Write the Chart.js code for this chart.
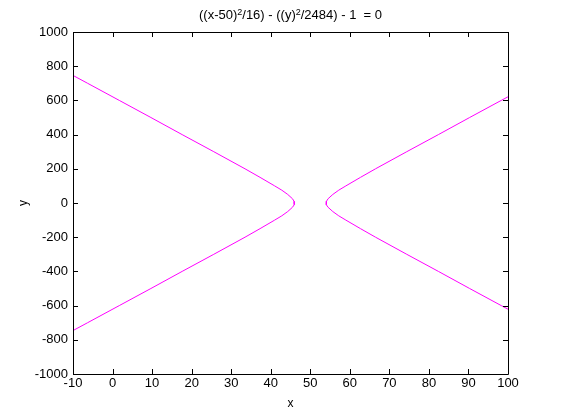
<!DOCTYPE html>
<html>
<head>
<meta charset="utf-8">
<script src="https://cdn.jsdelivr.net/npm/chart.js@4/dist/chart.umd.min.js"></script>
<style>
  html, body { margin: 0; padding: 0; background: #fff; }
  #wrap { width: 561px; height: 420px; }
</style>
</head>
<body>
<div id="wrap"><canvas id="c" width="561" height="420"></canvas></div>
<script>
// left branch, read top to bottom
const leftX = [-10, -6.3, 1.7, 9.7, 17.6, 25.6, 33.5, 37.3, 41.0, 42.8, 44.3, 45.5, 45.9, 46, 45.9, 45.5, 44.3, 42.8, 41.0, 37.3, 33.5, 25.6, 17.6, 9.7, 1.7, -6.3, -10];
const leftY = [746, 700, 600, 500, 400, 300, 200, 150, 100, 75, 50, 25, 10, 0, -10, -25, -50, -75, -100, -150, -200, -300, -400, -500, -600, -700, -746];
// right branch, read top to bottom
const rightX = [100, 98.3, 90.3, 82.4, 74.4, 66.5, 62.7, 59.0, 57.2, 55.7, 54.5, 54.1, 54, 54.1, 54.5, 55.7, 57.2, 59.0, 62.7, 66.5, 74.4, 82.4, 90.3, 98.3, 100];
const rightY = [621, 600, 500, 400, 300, 200, 150, 100, 75, 50, 25, 10, 0, -10, -25, -50, -75, -100, -150, -200, -300, -400, -500, -600, -621];

const xTicks = [-10, 0, 10, 20, 30, 40, 50, 60, 70, 80, 90, 100];
const yTicks = [-1000, -800, -600, -400, -200, 0, 200, 400, 600, 800, 1000];

const FONT = 'Liberation Sans, Arial, sans-serif';

const pts = (xs, ys) => xs.map((x, i) => ({ x: x, y: ys[i] }));

const frame = {
    id: 'frame',
    afterDraw(chart) {
        const ctx = chart.ctx;
        const a = chart.chartArea;
        const sx = chart.scales.x, sy = chart.scales.y;
        ctx.save();
        ctx.strokeStyle = '#000';
        ctx.lineWidth = 1;
        ctx.beginPath();
        ctx.rect(Math.round(a.left) + 0.5, Math.round(a.top) + 0.5, Math.round(a.right - a.left), Math.round(a.bottom - a.top));
        // inward ticks on all four sides
        xTicks.forEach(v => {
            const p = Math.round(sx.getPixelForValue(v)) + 0.5;
            ctx.moveTo(p, a.bottom); ctx.lineTo(p, a.bottom - 5);
            ctx.moveTo(p, a.top); ctx.lineTo(p, a.top + 5);
        });
        yTicks.forEach(v => {
            const p = Math.round(sy.getPixelForValue(v)) + 0.5;
            ctx.moveTo(a.left, p); ctx.lineTo(a.left + 5, p);
            ctx.moveTo(a.right, p); ctx.lineTo(a.right - 5, p);
        });
        ctx.stroke();

        // title with superscripts
        const parts = [['((x-50)', 0], ['2', 1], ['/16) - ((y)', 0], ['2', 1], ['/2484) - 1  = 0', 0]];
        const big = '13px ' + FONT, small = '9px ' + FONT;
        let w = 0;
        parts.forEach(p => { ctx.font = p[1] ? small : big; w += ctx.measureText(p[0]).width; });
        let x = (a.left + a.right) / 2 - w / 2;
        ctx.fillStyle = '#000';
        ctx.textBaseline = 'alphabetic';
        ctx.textAlign = 'left';
        parts.forEach(p => {
            ctx.font = p[1] ? small : big;
            ctx.fillText(p[0], x, p[1] ? 15 : 19);
            x += ctx.measureText(p[0]).width;
        });

        // axis labels
        ctx.font = '12px ' + FONT;
        ctx.textAlign = 'center';
        ctx.fillText('x', (a.left + a.right) / 2, 407);
        ctx.translate(27, (a.top + a.bottom) / 2);
        ctx.rotate(-Math.PI / 2);
        ctx.fillText('y', 0, 0);
        ctx.restore();
    }
};

new Chart(document.getElementById('c'), {
    type: 'scatter',
    data: {
        datasets: [
            { data: pts(leftX, leftY), showLine: true, borderColor: '#ff00ff', borderWidth: 1, pointRadius: 0, tension: 0 },
            { data: pts(rightX, rightY), showLine: true, borderColor: '#ff00ff', borderWidth: 1, pointRadius: 0, tension: 0 }
        ]
    },
    options: {
        responsive: false,
        animation: false,
        layout: { padding: { left: 0, right: 53, top: 32, bottom: 0 } },
        plugins: { legend: { display: false }, title: { display: false }, tooltip: { enabled: false } },
        scales: {
            x: {
                type: 'linear', min: -10, max: 100,
                afterBuildTicks: s => { s.ticks = xTicks.map(v => ({ value: v })); },
                afterFit: s => { s.height = 46; },
                grid: { display: false, drawTicks: false },
                border: { display: false },
                ticks: { padding: 2, color: '#000', font: { family: FONT, size: 13 }, maxRotation: 0, callback: v => String(v) }
            },
            y: {
                type: 'linear', min: -1000, max: 1000,
                afterBuildTicks: s => { s.ticks = yTicks.map(v => ({ value: v })); },
                afterFit: s => { s.width = 73; },
                grid: { display: false, drawTicks: false },
                border: { display: false },
                ticks: { padding: 5, color: '#000', font: { family: FONT, size: 13 }, callback: v => String(v) }
            }
        }
    },
    plugins: [frame]
});
</script>
</body>
</html>
